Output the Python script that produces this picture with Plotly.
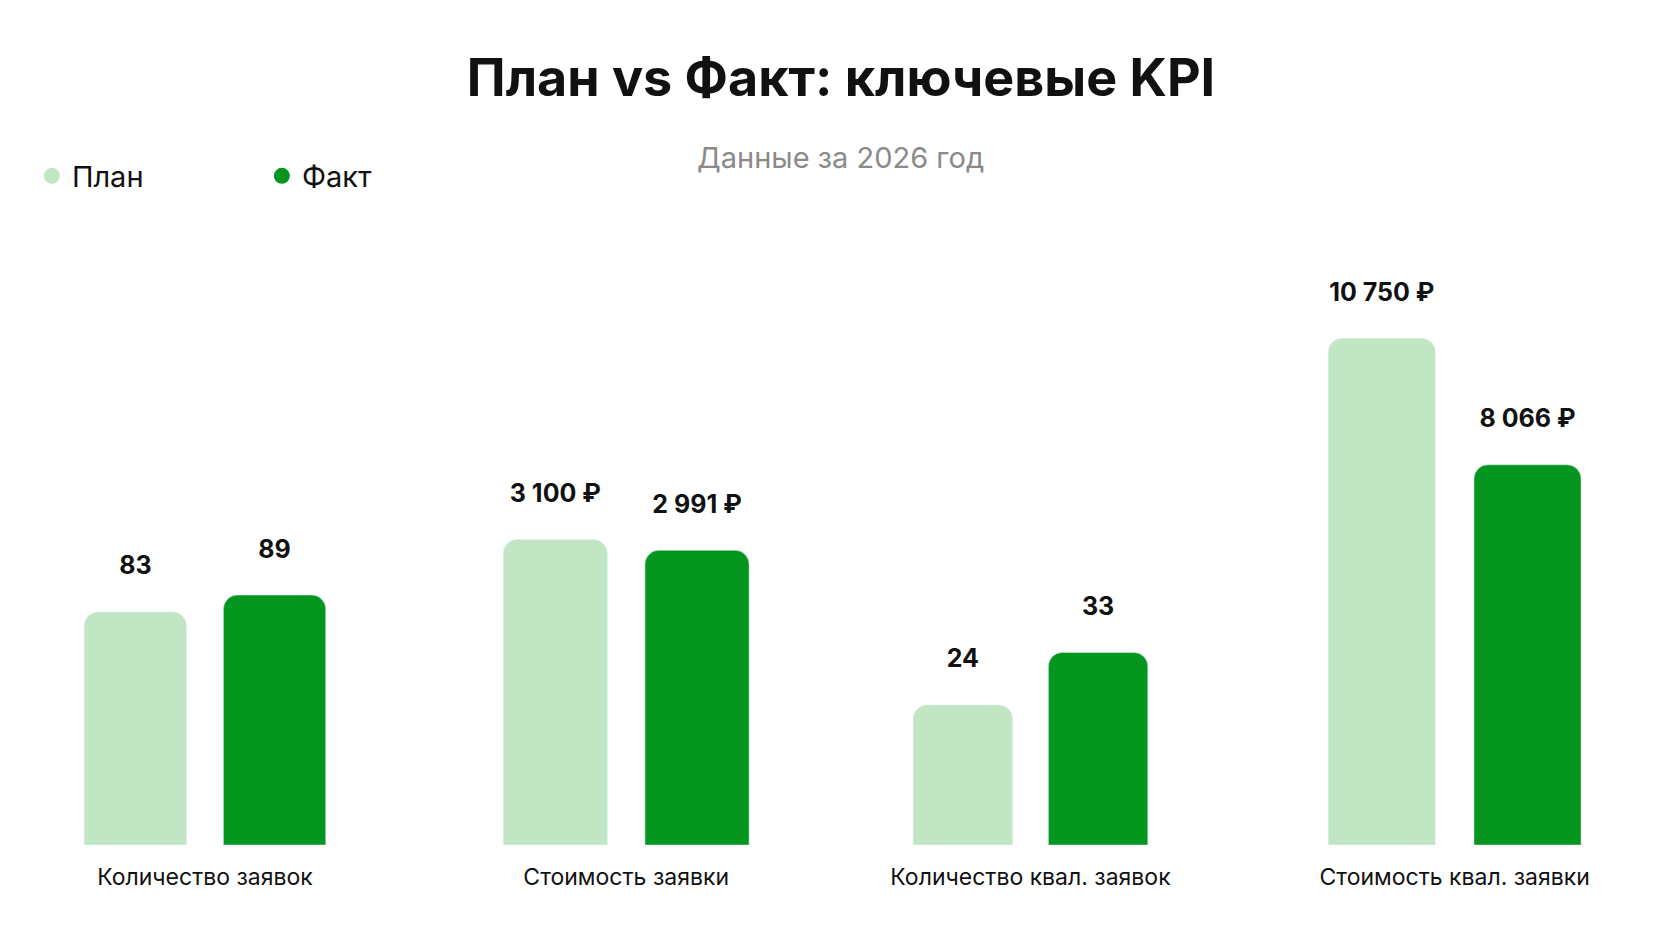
import plotly.graph_objects as go
from plotly.subplots import make_subplots

categories = ["Количество заявок", "Стоимость заявки", "Количество квал. заявок", "Стоимость квал. заявки"]
plan = [83, 3100, 24, 10750]
fact = [89, 2991, 33, 8066]
is_money = [False, True, False, True]
# per-category y axis maximum (each KPI has its own scale)
y_max = [214, 6100, 103, 12750]

PLAN_C = "#c1e6c3"
FACT_C = "#05961f"
W, H = 1666, 944


def fmt(v, money):
    s = f"{v:,}".replace(",", " ")
    s = s + " ₽" if money else s
    return f"<b>{s}</b><br><span style='font-size:9px'> </span>"


fig = make_subplots(rows=1, cols=4)
domains = [(54, 334), (475, 760), (888, 1160), (1304, 1597)]

for i, cat in enumerate(categories):
    for name, vals, col in (("План", plan, PLAN_C), ("Факт", fact, FACT_C)):
        fig.add_trace(go.Bar(
            x=[cat], y=[vals[i]], name=name, marker_color=col,
            marker_cornerradius=14, text=[fmt(vals[i], is_money[i])],
            textposition="outside", cliponaxis=False,
            textfont=dict(size=25, color="#111", family="Inter"),
            showlegend=False,
        ), row=1, col=i + 1)
    ax = "xaxis" if i == 0 else f"xaxis{i + 1}"
    ay = "yaxis" if i == 0 else f"yaxis{i + 1}"
    fig.update_layout({
        ax: dict(domain=[domains[i][0] / W, domains[i][1] / W], showgrid=False,
                 zeroline=False, showline=False, ticks="", ticklabelstandoff=16,
                 tickfont=dict(size=23, color="#111", family="Inter")),
        ay: dict(domain=[(H - 837) / H, 1 - 236 / H], range=[0, y_max[i]],
                 visible=False, showgrid=False),
    })

for name, col in (("План", PLAN_C), ("Факт", FACT_C)):
    fig.add_trace(go.Scatter(x=[None], y=[None], mode="markers", name=name,
                             marker=dict(color=col, size=34, symbol="circle")))

fig.update_layout(
    width=W, height=H, barmode="group", bargap=0.0, bargroupgap=0.265,
    plot_bgcolor="white", paper_bgcolor="white",
    margin=dict(l=0, r=0, t=0, b=0),
    font=dict(family="Inter", color="#111"),
    title=dict(text="<b>План vs Факт: ключевые KPI</b>", x=0.5, xanchor="center",
               y=1 - 70 / H, yanchor="middle", font=dict(size=52, color="#111")),
    legend=dict(orientation="h", x=0.012, y=1 - 168 / H, yanchor="middle",
                font=dict(size=29, color="#111"), entrywidth=185,
                entrywidthmode="pixels"),
    annotations=[dict(text="Данные за 2026 год", x=0.5, y=1 - 130 / H,
                      xref="paper", yref="paper", showarrow=False,
                      font=dict(size=29, color="#8a8a8a"))],
)

fig.write_html("out.html")
